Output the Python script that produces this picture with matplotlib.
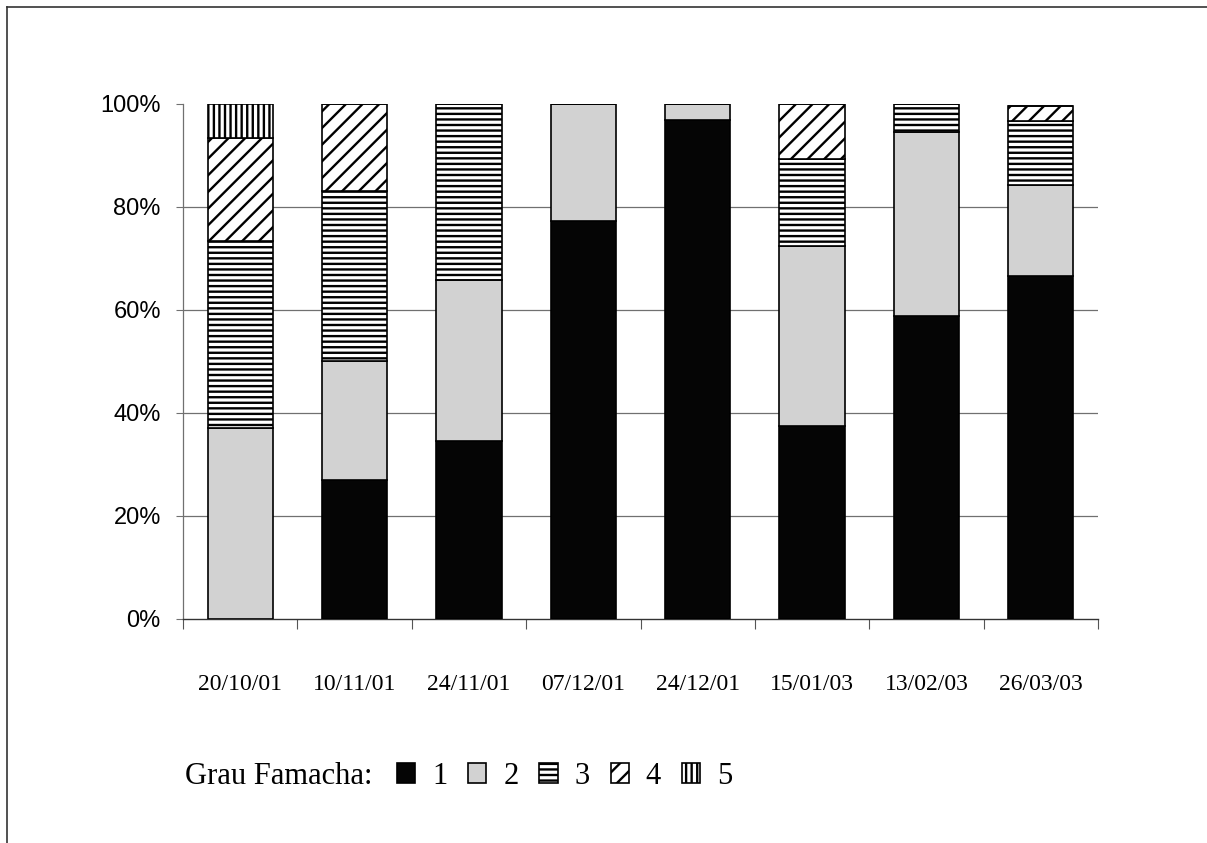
import numpy as np
import matplotlib
matplotlib.use('Agg')
import matplotlib.pyplot as plt
from matplotlib.patches import Patch
from matplotlib.lines import Line2D

# dados (% de animais por grau Famacha)
datas = ['20/10/01', '10/11/01', '24/11/01', '07/12/01',
         '24/12/01', '15/01/03', '13/02/03', '26/03/03']
grau1 = [0, 27, 34.6, 77.2, 96.9, 37.4, 58.8, 66.6]
grau2 = [37, 23, 31.2, 22.8, 3.1, 35.0, 35.8, 17.6]
grau3 = [36.3, 33.1, 34.2, 0, 0, 17.0, 5.4, 12.4]
grau4 = [20.1, 16.9, 0, 0, 0, 10.6, 0, 3.1]
grau5 = [6.6, 0, 0, 0, 0, 0, 0, 0]
series = [grau1, grau2, grau3, grau4, grau5]
rotulos = ['1', '2', '3', '4', '5']
yticks = [0, 20, 40, 60, 80, 100]

estilos = [
    dict(facecolor='#050505', hatch=None),
    dict(facecolor='#d2d2d2', hatch=None),
    dict(facecolor='white', hatch='---'),
    dict(facecolor='white', hatch='//'),
    dict(facecolor='white', hatch='|||'),
]

plt.rcParams['hatch.linewidth'] = 1.7

fig = plt.figure(figsize=(12.07, 8.43), dpi=100)
ax = fig.add_axes([183 / 1207, 1 - 618.7 / 843, 915 / 1207, 514.7 / 843])

x = np.arange(len(datas))
base = np.zeros(len(datas))
for vals, st in zip(series, estilos):
    vals = np.array(vals)
    ax.bar(x, vals, width=0.57, bottom=base, facecolor=st['facecolor'],
           hatch=st['hatch'], edgecolor='black', linewidth=1.2, zorder=3)
    base += vals

for y in yticks[1:-1]:
    ax.axhline(y, color='#707070', linewidth=0.9, zorder=1)

ax.set_xlim(-0.5, len(datas) - 0.5)
ax.set_ylim(0, 100)
ax.set_yticks(yticks)
ax.set_yticklabels([f'{v}%' for v in yticks], family='Liberation Sans', fontsize=17)
ax.set_xticks(x)
ax.set_xticklabels(datas, family='Liberation Serif', fontsize=17)
ax.set_xticks(np.arange(len(datas) + 1) - 0.5, minor=True)
ax.tick_params(axis='x', which='major', length=0, pad=40)
ax.tick_params(axis='x', which='minor', length=7, width=0.8, direction='out', color='#555555')
ax.tick_params(axis='y', length=5, width=0.8, pad=11, color='#707070')

for s in ['top', 'right']:
    ax.spines[s].set_visible(False)
ax.spines['left'].set_color('#707070')
ax.spines['left'].set_linewidth(0.9)
ax.spines['bottom'].set_color('#333333')
ax.spines['bottom'].set_linewidth(1.0)

# legenda
handles = [Patch(facecolor=st['facecolor'], hatch=st['hatch'], edgecolor='black', linewidth=1.2)
           for st in estilos]
fig.text(185 / 1207, 1 - 776 / 843, 'Grau Famacha:', family='Liberation Serif',
         fontsize=22, va='center', ha='left')
fig.legend(handles, rotulos, loc='center left', bbox_to_anchor=(397 / 1207, 1 - 776 / 843),
           ncol=5, frameon=False, prop={'family': 'Liberation Serif', 'size': 22},
           handlelength=0.6, handleheight=0.62, handletextpad=0.55, columnspacing=0.68,
           borderpad=0, borderaxespad=0)

# moldura (linhas de cima e da esquerda)
fig.add_artist(Line2D([7 / 1207, 1], [1 - 7 / 843, 1 - 7 / 843], color='#333333', linewidth=1.2))
fig.add_artist(Line2D([7 / 1207, 7 / 1207], [0, 1 - 7 / 843], color='#333333', linewidth=1.2))

fig.savefig('out.png', dpi=100)
